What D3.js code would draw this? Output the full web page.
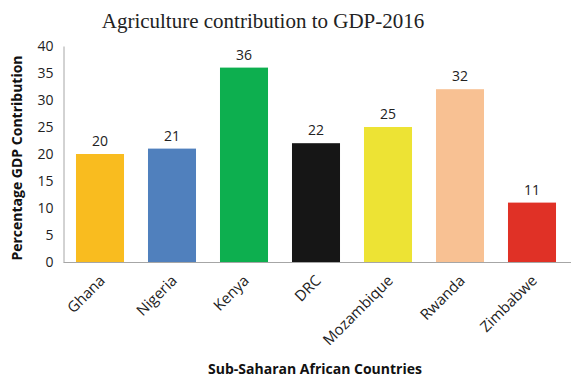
<!DOCTYPE html>
<html>
<head>
<meta charset="utf-8">
<script src="https://cdn.jsdelivr.net/npm/d3@7"></script>
<style>
  html, body { margin: 0; padding: 0; background: #fff; }
  svg { display: block; }
</style>
</head>
<body>
<svg id="chart" width="571" height="378"></svg>
<script>
// Agriculture share of GDP, 2016, for seven Sub-Saharan countries
const countries = ["Ghana", "Nigeria", "Kenya", "DRC", "Mozambique", "Rwanda", "Zimbabwe"];
const gdpShare = [20, 21, 36, 22, 25, 32, 11];
const barColors = ["#F9BC1F", "#5080BD", "#0DAF4F", "#161616", "#EDE334", "#F8C193", "#E03126"];
const yTicks = [0, 5, 10, 15, 20, 25, 30, 35, 40];

const svg = d3.select("#chart");
const plot = { left: 64, right: 568, top: 46, bottom: 262 };
const sansFont = "Open Sans, Liberation Sans, sans-serif";

const x = d3.scaleBand().domain(countries).range([plot.left, plot.right]).paddingInner(0.333).paddingOuter(0.1665);
const y = d3.scaleLinear().domain([0, 40]).range([plot.bottom, plot.top]);

// Title
svg.append("text")
  .attr("x", 263).attr("y", 28)
  .attr("text-anchor", "middle")
  .style("font-family", "Liberation Serif, Times New Roman, serif")
  .style("font-size", "21px")
  .attr("fill", "#222")
  .text("Agriculture contribution to GDP-2016");

// Y axis
const yAxis = svg.append("g")
  .attr("transform", `translate(${plot.left - 0.5},0)`)
  .call(d3.axisLeft(y).tickValues(yTicks).tickSize(0).tickPadding(10));
yAxis.select(".domain").attr("stroke", "#a6a6a6");
yAxis.selectAll("text")
  .style("font-family", sansFont).style("font-size", "14px").attr("fill", "#222");

// Bars
svg.append("g").selectAll("rect")
  .data(countries)
  .join("rect")
  .attr("x", d => x(d))
  .attr("width", x.bandwidth())
  .attr("y", (d, i) => y(gdpShare[i]))
  .attr("height", (d, i) => y(0) - y(gdpShare[i]))
  .attr("fill", (d, i) => barColors[i]);

// Value labels
svg.append("g").selectAll("text")
  .data(countries)
  .join("text")
  .attr("x", d => x(d) + x.bandwidth() / 2)
  .attr("y", (d, i) => y(gdpShare[i]) - 8)
  .attr("text-anchor", "middle")
  .style("font-family", sansFont).style("font-size", "14px")
  .attr("fill", "#222")
  .text((d, i) => gdpShare[i]);

// X axis
const xAxis = svg.append("g")
  .attr("transform", `translate(0,${plot.bottom + 0.5})`)
  .call(d3.axisBottom(x).tickSize(0).tickSizeOuter(0).tickPadding(0));
xAxis.select(".domain").attr("stroke", "#a6a6a6").attr("d", `M${plot.left - 0.5},0H571`);
xAxis.selectAll("text")
  .style("font-family", sansFont).style("font-size", "15px").attr("fill", "#222")
  .attr("text-anchor", "end")
  .attr("dy", "0")
  .attr("transform", "translate(6,19) rotate(-45)");

// Axis titles
svg.append("text")
  .attr("transform", "translate(22,158) rotate(-90)")
  .attr("text-anchor", "middle")
  .style("font-family", sansFont).style("font-size", "14px").style("font-weight", "bold")
  .attr("fill", "#111")
  .text("Percentage GDP Contribution");

svg.append("text")
  .attr("x", 315).attr("y", 374)
  .attr("text-anchor", "middle")
  .style("font-family", sansFont).style("font-size", "14px").style("font-weight", "bold")
  .attr("fill", "#111")
  .text("Sub-Saharan African Countries");
</script>
</body>
</html>
